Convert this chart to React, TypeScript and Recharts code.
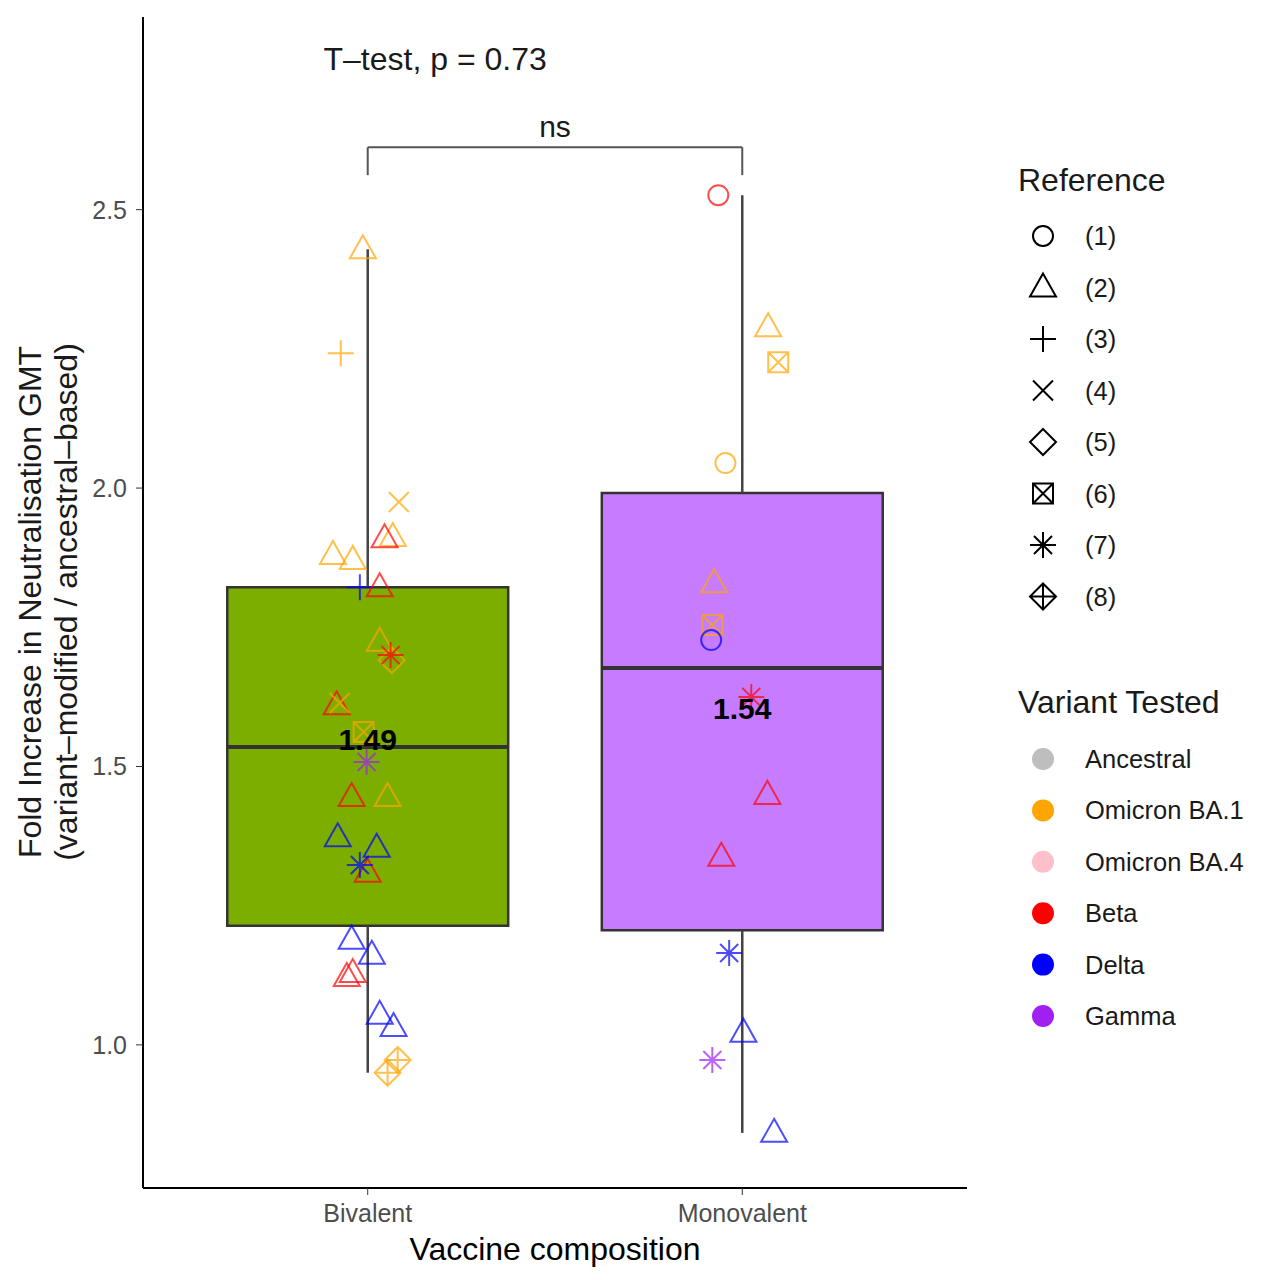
import React from 'react';
import { ComposedChart, Scatter, XAxis, YAxis, ReferenceArea, ReferenceLine } from 'recharts';

const categories = ['Bivalent', 'Monovalent'];
const references = ['(1)', '(2)', '(3)', '(4)', '(5)', '(6)', '(7)', '(8)'];
const variants = ['Ancestral', 'Omicron BA.1', 'Omicron BA.4', 'Beta', 'Delta', 'Gamma'];

// [lower whisker, q1, median, q3, upper whisker]
const bivalentBox = [0.95, 1.214, 1.535, 1.822, 2.429];
const monovalentBox = [0.842, 1.206, 1.677, 1.991, 2.526];

const meanLabels = ['1.49', '1.54'];
const meanLabelY = [1.53, 1.585];

// [jitter, fold increase, reference, variant]
const bivalentPoints: [number, number, number, string][] = [
  [-0.013, 2.429, 2, 'Omicron BA.1'],
  [-0.072, 2.242, 3, 'Omicron BA.1'],
  [0.083, 1.975, 4, 'Omicron BA.1'],
  [0.067, 1.912, 2, 'Omicron BA.1'],
  [0.045, 1.91, 2, 'Beta'],
  [-0.093, 1.88, 2, 'Omicron BA.1'],
  [-0.04, 1.871, 2, 'Omicron BA.1'],
  [-0.021, 1.822, 3, 'Delta'],
  [0.032, 1.822, 2, 'Beta'],
  [0.032, 1.724, 2, 'Omicron BA.1'],
  [0.064, 1.691, 5, 'Omicron BA.1'],
  [0.061, 1.7, 7, 'Beta'],
  [-0.083, 1.61, 2, 'Beta'],
  [-0.075, 1.614, 4, 'Omicron BA.1'],
  [-0.011, 1.562, 6, 'Omicron BA.1'],
  [-0.003, 1.508, 7, 'Gamma'],
  [-0.043, 1.445, 2, 'Beta'],
  [0.053, 1.445, 2, 'Omicron BA.1'],
  [-0.08, 1.373, 2, 'Delta'],
  [0.024, 1.354, 2, 'Delta'],
  [0.0, 1.309, 2, 'Beta'],
  [-0.021, 1.323, 7, 'Delta'],
  [-0.043, 1.189, 2, 'Delta'],
  [0.011, 1.162, 2, 'Delta'],
  [-0.056, 1.122, 2, 'Beta'],
  [-0.04, 1.129, 2, 'Beta'],
  [0.032, 1.054, 2, 'Delta'],
  [0.069, 1.032, 2, 'Delta'],
  [0.08, 0.973, 8, 'Omicron BA.1'],
  [0.053, 0.95, 8, 'Omicron BA.1'],
];

const monovalentPoints: [number, number, number, string][] = [
  [-0.064, 2.526, 1, 'Beta'],
  [0.069, 2.289, 2, 'Omicron BA.1'],
  [0.096, 2.226, 6, 'Omicron BA.1'],
  [-0.045, 2.045, 1, 'Omicron BA.1'],
  [-0.075, 1.829, 2, 'Omicron BA.1'],
  [-0.08, 1.754, 6, 'Omicron BA.1'],
  [-0.083, 1.727, 1, 'Delta'],
  [0.024, 1.625, 7, 'Beta'],
  [0.067, 1.449, 2, 'Beta'],
  [-0.056, 1.338, 2, 'Beta'],
  [-0.035, 1.165, 7, 'Delta'],
  [0.003, 1.022, 2, 'Delta'],
  [-0.08, 0.973, 7, 'Gamma'],
  [0.085, 0.842, 2, 'Delta'],
];

const variantColors: Record<string, string> = {
  Ancestral: '#BEBEBE',
  'Omicron BA.1': '#FFA500',
  'Omicron BA.4': '#FFC0CB',
  Beta: '#FF0000',
  Delta: '#0000FF',
  Gamma: '#A020F0',
};
const boxFills = ['#7CAE00', '#C77CFF'];
const FONT = '"Liberation Sans", Arial, Helvetica, sans-serif';
const HALF = 0.375;

const boxes = [bivalentBox, monovalentBox];
const points = [bivalentPoints, monovalentPoints].flatMap((list, i) =>
  list.map(([j, v, ref, variant]) => ({ x: i + 1 + j, y: v, ref, variant }))
);
const labelData = meanLabels.map((t, i) => ({ x: i + 1, y: meanLabelY[i], text: t }));
const annotations = [
  { x: 1.5, y: 2.63, text: 'ns', size: 30 },
  { x: 1.18, y: 2.75, text: 'T\u2013test, p = 0.73', size: 32 },
];

function Glyph({ cx, cy, shape, color }: { cx: number; cy: number; shape: number; color: string }) {
  const p = { fill: 'none', stroke: color, strokeWidth: 2 };
  switch (shape) {
    case 1:
      return <circle cx={cx} cy={cy} r={10} {...p} />;
    case 2:
      return <polygon points={`${cx},${cy - 14} ${cx - 13},${cy + 9} ${cx + 13},${cy + 9}`} {...p} />;
    case 3:
      return <path d={`M${cx - 13},${cy}H${cx + 13}M${cx},${cy - 13}V${cy + 13}`} {...p} />;
    case 4:
      return <path d={`M${cx - 10},${cy - 10}L${cx + 10},${cy + 10}M${cx - 10},${cy + 10}L${cx + 10},${cy - 10}`} {...p} />;
    case 5:
      return <polygon points={`${cx},${cy - 13} ${cx + 13},${cy} ${cx},${cy + 13} ${cx - 13},${cy}`} {...p} />;
    case 6:
      return (
        <path
          d={`M${cx - 10},${cy - 10}H${cx + 10}V${cy + 10}H${cx - 10}ZM${cx - 10},${cy - 10}L${cx + 10},${cy + 10}M${cx - 10},${cy + 10}L${cx + 10},${cy - 10}`}
          {...p}
        />
      );
    case 7:
      return (
        <path
          d={`M${cx - 13},${cy}H${cx + 13}M${cx},${cy - 13}V${cy + 13}M${cx - 9},${cy - 9}L${cx + 9},${cy + 9}M${cx - 9},${cy + 9}L${cx + 9},${cy - 9}`}
          {...p}
        />
      );
    default:
      return (
        <path
          d={`M${cx},${cy - 13}L${cx + 13},${cy}L${cx},${cy + 13}L${cx - 13},${cy}ZM${cx - 13},${cy}H${cx + 13}M${cx},${cy - 13}V${cy + 13}`}
          {...p}
        />
      );
  }
}

const renderPoint = (props: any) => (
  <g opacity={0.7}>
    <Glyph cx={props.cx} cy={props.cy} shape={props.payload.ref} color={variantColors[props.payload.variant]} />
  </g>
);

const renderMean = (props: any) => (
  <text x={props.cx} y={props.cy} textAnchor="middle" fontFamily={FONT} fontSize={30} fontWeight="bold" fill="#000">
    {props.payload.text}
  </text>
);

const renderAnnotation = (props: any) => (
  <text x={props.cx} y={props.cy} textAnchor="middle" fontFamily={FONT} fontSize={props.payload.size} fill="#1a1a1a">
    {props.payload.text}
  </text>
);

export default function App() {
  const tick = { fill: '#4D4D4D', fontSize: 25, fontFamily: FONT };
  return (
    <div style={{ position: 'absolute', left: 0, top: 0, width: 1266, height: 1280, background: '#fff' }}>
      <ComposedChart width={1266} height={1280} margin={{ top: 17, right: 299, bottom: 0, left: 0 }}>
        <XAxis
          type="number"
          dataKey="x"
          domain={[0.4, 2.6]}
          ticks={[1, 2]}
          tickFormatter={(v: number) => categories[v - 1]}
          allowDataOverflow
          height={92}
          tickSize={7}
          tickMargin={9}
          tick={tick}
          axisLine={{ stroke: '#000', strokeWidth: 2 }}
          tickLine={{ stroke: '#333' }}
          label={{ value: 'Vaccine composition', position: 'insideBottom', offset: 20, fill: '#000', fontSize: 32, fontFamily: FONT }}
        />
        <YAxis
          type="number"
          dataKey="y"
          domain={[0.743, 2.846]}
          ticks={[1, 1.5, 2, 2.5]}
          tickFormatter={(v: number) => v.toFixed(1)}
          allowDataOverflow
          width={143}
          tickSize={7}
          tickMargin={9}
          tick={tick}
          axisLine={{ stroke: '#000', strokeWidth: 2 }}
          tickLine={{ stroke: '#333' }}
        />
        {boxes.map((b, i) => (
          <ReferenceLine
            key={`wu${i}`}
            segment={[{ x: i + 1, y: b[3] }, { x: i + 1, y: b[4] }]}
            stroke="#444"
            strokeWidth={2.5}
          />
        ))}
        {boxes.map((b, i) => (
          <ReferenceLine
            key={`wl${i}`}
            segment={[{ x: i + 1, y: b[0] }, { x: i + 1, y: b[1] }]}
            stroke="#444"
            strokeWidth={2.5}
          />
        ))}
        {boxes.map((b, i) => (
          <ReferenceArea
            key={`box${i}`}
            x1={i + 1 - HALF}
            x2={i + 1 + HALF}
            y1={b[1]}
            y2={b[3]}
            fill={boxFills[i]}
            fillOpacity={1}
            stroke="#333"
            strokeWidth={2.5}
          />
        ))}
        {boxes.map((b, i) => (
          <ReferenceLine
            key={`med${i}`}
            segment={[{ x: i + 1 - HALF, y: b[2] }, { x: i + 1 + HALF, y: b[2] }]}
            stroke="#333"
            strokeWidth={4}
          />
        ))}
        <ReferenceLine segment={[{ x: 1, y: 2.562 }, { x: 1, y: 2.612 }]} stroke="#555" strokeWidth={2} />
        <ReferenceLine segment={[{ x: 1, y: 2.612 }, { x: 2, y: 2.612 }]} stroke="#555" strokeWidth={2} />
        <ReferenceLine segment={[{ x: 2, y: 2.612 }, { x: 2, y: 2.562 }]} stroke="#555" strokeWidth={2} />
        <Scatter data={points} shape={renderPoint} isAnimationActive={false} />
        <Scatter data={labelData} shape={renderMean} isAnimationActive={false} />
        <Scatter data={annotations} shape={renderAnnotation} isAnimationActive={false} />
      </ComposedChart>
      <svg width={1266} height={1280} style={{ position: 'absolute', left: 0, top: 0, pointerEvents: 'none' }}>
        <g fontFamily={FONT} fill="#1a1a1a">
          <text transform="translate(30,602) rotate(-90)" textAnchor="middle" dominantBaseline="central" fontSize={32}>
            Fold Increase in Neutralisation GMT
          </text>
          <text transform="translate(66,602) rotate(-90)" textAnchor="middle" dominantBaseline="central" fontSize={32}>
            (variant{'\u2013'}modified / ancestral{'\u2013'}based)
          </text>
          <text x={1018} y={191} fontSize={32}>Reference</text>
          {references.map((r, i) => (
            <g key={r}>
              <Glyph cx={1043} cy={236 + i * 51.5} shape={i + 1} color="#000" />
              <text x={1085} y={236 + i * 51.5 + 9} fontSize={25.5}>{r}</text>
            </g>
          ))}
          <text x={1018} y={713} fontSize={32}>Variant Tested</text>
          {variants.map((v, i) => (
            <g key={v}>
              <circle cx={1043} cy={759 + i * 51.4} r={11} fill={variantColors[v]} />
              <text x={1085} y={759 + i * 51.4 + 9} fontSize={25.5}>{v}</text>
            </g>
          ))}
        </g>
      </svg>
    </div>
  );
}
